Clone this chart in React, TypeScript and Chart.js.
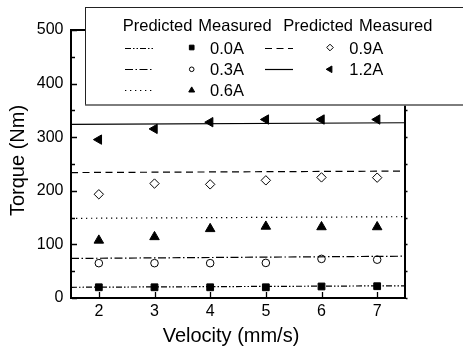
import React, { useEffect, useRef } from 'react';
import { Chart, registerables } from 'chart.js';

Chart.register(...registerables);

// ---------------- data ----------------
const velocity = [2, 3, 4, 5, 6, 7];
const velocityRange = [1.5, 7.5];
const currents = ['0.0A', '0.3A', '0.6A', '0.9A', '1.2A'];

const measured00 = [20, 20, 20, 20, 21.5, 22];
const measured03 = [65, 65, 65, 65.5, 73, 71.5];
const measured06 = [107.5, 114, 129, 133.5, 132.5, 132.5];
const measured09 = [193.5, 213.5, 212, 219.5, 225, 224.5];
const measured12 = [295.5, 315.5, 328, 333, 333, 333];

const predicted00 = [20, 22.8];
const predicted03 = [73.8, 78];
const predicted06 = [148.6, 151.7];
const predicted09 = [234, 236.8];
const predicted12 = [324, 327];

const xTickValues = [2, 3, 4, 5, 6, 7];
const yTickValues = [0, 50, 100, 150, 200, 250, 300, 350, 400, 450, 500];
const yTickLabels = ['0', '100', '200', '300', '400', '500'];

const xTitle = 'Velocity (mm/s)';
const yTitle = 'Torque (Nm)';
const legendHeader = ['Predicted', 'Measured'];

const measuredSeries = [measured00, measured03, measured06, measured09, measured12];
const predictedSeries = [predicted00, predicted03, predicted06, predicted09, predicted12];

// ---------------- styles ----------------
const FONT = "'Liberation Sans', Arial, Helvetica, sans-serif";
const styles = [
  { dash: [6, 2, 1.5, 2, 1.5, 2], point: 'rect', rot: 0, r: 4.8, fill: '#000', lr: 3.3 },
  { dash: [8, 2.5, 1.5, 2.5], point: 'circle', rot: 0, r: 3.8, fill: '#fff', lr: 2.3 },
  { dash: [1.3, 3.7], point: 'triangle', rot: 0, r: 5.5, fill: '#000', lr: 3.4 },
  { dash: [7, 4.5], point: 'rectRot', rot: 0, r: 4.7, fill: '#fff', lr: 3.3 },
  { dash: [], point: 'triangle', rot: -90, r: 5.4, fill: '#000', lr: 3.8 },
];

function drawMarker(ctx: CanvasRenderingContext2D, style: string, rotDeg: number, x: number, y: number, r: number, fill: string) {
  ctx.save();
  ctx.beginPath();
  let rad = (rotDeg * Math.PI) / 180;
  if (style === 'rect') {
    const s = Math.SQRT1_2 * r;
    ctx.rect(x - s, y - s, 2 * s, 2 * s);
  } else if (style === 'circle') {
    ctx.arc(x, y, r, 0, Math.PI * 2);
  } else if (style === 'triangle') {
    for (let i = 0; i < 3; i++) {
      const px = x + Math.sin(rad) * r;
      const py = y - Math.cos(rad) * r;
      if (i === 0) ctx.moveTo(px, py);
      else ctx.lineTo(px, py);
      rad += (2 * Math.PI) / 3;
    }
  } else if (style === 'rectRot') {
    ctx.moveTo(x - r, y);
    ctx.lineTo(x, y - r);
    ctx.lineTo(x + r, y);
    ctx.lineTo(x, y + r);
  }
  ctx.closePath();
  ctx.fillStyle = fill;
  ctx.fill();
  ctx.lineWidth = 1;
  ctx.strokeStyle = '#000';
  ctx.stroke();
  ctx.restore();
}

const decorPlugin = {
  id: 'decor',
  afterDraw(chart: any) {
    const ctx: CanvasRenderingContext2D = chart.ctx;
    const { x, y } = chart.scales;
    const area = chart.chartArea;
    ctx.save();
    ctx.strokeStyle = '#000';
    ctx.lineWidth = 1.3;
    // bottom ticks (inward)
    xTickValues.forEach((v) => {
      const px = Math.round(x.getPixelForValue(v)) + 0.5;
      ctx.beginPath();
      ctx.moveTo(px, area.bottom - 1);
      ctx.lineTo(px, area.bottom - 6);
      ctx.stroke();
    });
    // left ticks (inward) and right ticks (outward, short)
    yTickValues.forEach((v) => {
      const py = Math.round(y.getPixelForValue(v)) + 0.5;
      const major = v % 100 === 0;
      ctx.beginPath();
      ctx.moveTo(area.left + 1, py);
      ctx.lineTo(area.left + (major ? 6 : 4), py);
      ctx.moveTo(area.right + 1, py);
      ctx.lineTo(area.right + 2.5, py);
      ctx.stroke();
    });

    // axis titles
    ctx.fillStyle = '#000';
    ctx.font = `20px ${FONT}`;
    ctx.textBaseline = 'alphabetic';
    ctx.textAlign = 'center';
    ctx.fillText(xTitle, 231, 342);
    ctx.save();
    ctx.translate(24.3, 160.5);
    ctx.rotate(-Math.PI / 2);
    ctx.fillText(yTitle, 0, 0);
    ctx.restore();

    // legend box
    const bx = 85.5, by = 7.5, bw = 420, bh = 97.5;
    ctx.fillStyle = '#fff';
    ctx.fillRect(bx, by, bw, bh);
    ctx.lineWidth = 1;
    ctx.strokeStyle = '#222';
    ctx.strokeRect(bx, by, bw, bh);
    ctx.beginPath();
    ctx.strokeStyle = '#777';
    ctx.lineWidth = 1.5;
    ctx.moveTo(bx, by + bh);
    ctx.lineTo(bx + bw, by + bh);
    ctx.stroke();

    ctx.fillStyle = '#000';
    ctx.font = `16.5px ${FONT}`;
    ctx.textBaseline = 'alphabetic';
    ctx.textAlign = 'left';
    ctx.fillText(legendHeader[0], 122.7, 31);
    ctx.fillText(legendHeader[1], 198.3, 31);
    ctx.fillText(legendHeader[0], 283.3, 31);
    ctx.fillText(legendHeader[1], 359, 31);

    const cols = [
      { lx0: 125, lx1: 154, mx: 191.7, tx: 210 },
      { lx0: 265, lx1: 293, mx: 330, tx: 349.3 },
    ];
    const rowY = [47.5, 69.3, 90.3];
    currents.forEach((label, i) => {
      const col = cols[i < 3 ? 0 : 1];
      const row = i < 3 ? i : i - 3;
      const ly = rowY[row];
      const st = styles[i];
      ctx.save();
      ctx.beginPath();
      ctx.setLineDash(st.dash);
      ctx.lineWidth = 1.2;
      ctx.strokeStyle = '#000';
      ctx.moveTo(col.lx0, Math.round(ly) + 0.5);
      ctx.lineTo(col.lx1, Math.round(ly) + 0.5);
      ctx.stroke();
      ctx.restore();
      drawMarker(ctx, st.point, st.rot, col.mx, ly, st.lr, st.fill);
      ctx.fillStyle = '#000';
      ctx.fillText(label, col.tx, ly + 6);
    });
    ctx.restore();
  },
};

export default function App() {
  const ref = useRef<HTMLCanvasElement>(null);
  useEffect(() => {
    const canvas = ref.current;
    if (!canvas) return;
    const datasets: any[] = [];
    predictedSeries.forEach((p, i) => {
      datasets.push({
        type: 'line',
        label: 'Predicted ' + currents[i],
        data: velocityRange.map((v, k) => ({ x: v, y: p[k] })),
        borderColor: '#000',
        borderWidth: 1.2,
        borderDash: styles[i].dash,
        pointRadius: 0,
        fill: false,
        tension: 0,
        xAxisID: 'x',
        yAxisID: 'y',
      });
    });
    measuredSeries.forEach((m, i) => {
      datasets.push({
        type: 'scatter',
        label: 'Measured ' + currents[i],
        data: velocity.map((v, k) => ({ x: v, y: m[k] })),
        showLine: false,
        pointStyle: styles[i].point,
        rotation: styles[i].rot,
        pointRadius: styles[i].r,
        pointBackgroundColor: styles[i].fill,
        pointBorderColor: '#000',
        pointBorderWidth: 1,
        xAxisID: 'x',
        yAxisID: 'y',
      });
    });

    const chart = new Chart(canvas, {
      type: 'scatter',
      data: { datasets },
      plugins: [decorPlugin],
      options: {
        animation: false,
        responsive: false,
        maintainAspectRatio: false,
        devicePixelRatio: 1,
        layout: { padding: 0 },
        plugins: { legend: { display: false }, tooltip: { enabled: false } },
        scales: {
          x: {
            type: 'linear',
            position: 'bottom',
            min: velocityRange[0],
            max: velocityRange[1],
            afterBuildTicks: (s: any) => {
              s.ticks = xTickValues.map((v) => ({ value: v }));
            },
            afterFit: (s: any) => {
              s.height = 52;
            },
            grid: { display: false, drawTicks: false },
            border: { display: true, color: '#000', width: 2 },
            ticks: {
              color: '#000',
              font: { family: FONT, size: 16 },
              padding: 4,
              maxRotation: 0,
              autoSkip: false,
              callback: (v: any) => String(v),
            },
          },
          x2: {
            type: 'linear',
            position: 'top',
            min: velocityRange[0],
            max: velocityRange[1],
            afterFit: (s: any) => {
              s.height = 30;
            },
            grid: { display: false, drawTicks: false },
            border: { display: true, color: '#000', width: 2 },
            ticks: { display: false },
          },
          y: {
            type: 'linear',
            position: 'left',
            min: 0,
            max: 500,
            afterBuildTicks: (s: any) => {
              s.ticks = yTickValues.map((v) => ({ value: v }));
            },
            afterFit: (s: any) => {
              s.width = 71;
            },
            grid: { display: false, drawTicks: false },
            border: { display: true, color: '#000', width: 2 },
            ticks: {
              color: '#000',
              font: { family: FONT, size: 16 },
              padding: 7.5,
              autoSkip: false,
              callback: (v: any) => {
                const s = String(v);
                return yTickLabels.includes(s) ? s : '';
              },
            },
          },
          y2: {
            type: 'linear',
            position: 'right',
            min: 0,
            max: 500,
            afterFit: (s: any) => {
              s.width = 58;
            },
            grid: { display: false, drawTicks: false },
            border: { display: true, color: '#000', width: 2 },
            ticks: { display: false },
          },
        },
      } as any,
    });
    return () => chart.destroy();
  }, []);

  return (
    <div style={{ position: 'absolute', left: 0, top: 0, width: 463, height: 350, background: '#fff' }}>
      <canvas ref={ref} width={463} height={350} style={{ width: 463, height: 350, display: 'block' }} />
    </div>
  );
}
